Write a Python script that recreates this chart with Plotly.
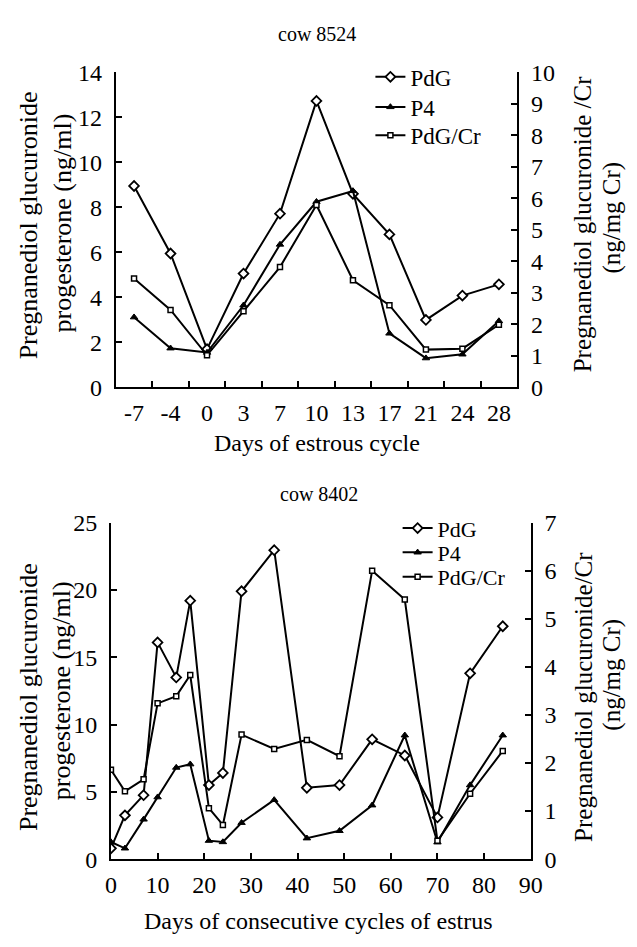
import plotly.graph_objects as go

# ---- data: cow 8524 ----
top_days = ["-7", "-4", "0", "3", "7", "10", "13", "17", "21", "24", "28"]
top_pdg = [8.95, 5.95, 1.70, 5.06, 7.72, 12.73, 8.60, 6.80, 3.00, 4.08, 4.58]
top_p4 = [3.12, 1.74, 1.55, 3.65, 6.35, 8.25, 8.73, 2.40, 1.30, 1.47, 2.95]
top_pdgcr = [3.46, 2.46, 1.02, 2.42, 3.82, 5.79, 3.40, 2.61, 1.20, 1.23, 1.99]

# ---- data: cow 8402 ----
bot_days = [0, 3, 7, 10, 14, 17, 21, 24, 28, 35, 42, 49, 56, 63, 70, 77, 84]
bot_pdg = [0.8, 3.25, 4.75, 16.1, 13.5, 19.2, 5.5, 6.4, 19.9, 22.95, 5.3, 5.5, 8.9, 7.7, 3.1, 13.8, 17.3]
bot_p4 = [1.27, 0.8, 2.95, 4.6, 6.8, 7.05, 1.37, 1.27, 2.7, 4.4, 1.55, 2.1, 4.0, 9.2, 1.25, 5.5, 9.2]
bot_pdgcr = [1.86, 1.41, 1.66, 3.24, 3.39, 3.83, 1.06, 0.71, 2.59, 2.29, 2.48, 2.14, 6.0, 5.40, 0.38, 1.36, 2.25]

W, H = 637, 947
FONT = "Liberation Serif"

def px(x):
    return x / W

def py(y):
    return 1 - y / H

line = dict(color="black", width=2)
m_pdg = dict(symbol="diamond", size=7.5, color="white", line=dict(color="black", width=1.8))
m_p4 = dict(symbol="triangle-up", size=6.5, color="black", line=dict(color="black", width=1))
m_cr = dict(symbol="square", size=5, color="white", line=dict(color="black", width=1.5))

fig = go.Figure()
def add(x, y, name, marker, xa, ya, lg):
    fig.add_trace(go.Scatter(x=x, y=y, name=name, mode="lines+markers", line=line,
                             marker=marker, xaxis=xa, yaxis=ya, legend=lg, showlegend=True))

add(top_days, top_pdg, "PdG", m_pdg, "x", "y", "legend")
add(top_days, top_p4, "P4", m_p4, "x", "y", "legend2")
add(top_days, top_pdgcr, "PdG/Cr", m_cr, "x", "y2", "legend3")
add(bot_days, bot_pdg, "PdG", m_pdg, "x2", "y3", "legend4")
add(bot_days, bot_p4, "P4", m_p4, "x2", "y3", "legend5")
add(bot_days, bot_pdgcr, "PdG/Cr", m_cr, "x2", "y4", "legend6")

tickfont = dict(family=FONT, size=24, color="black")
axcommon = dict(showline=True, linecolor="black", linewidth=2, ticks="inside", ticklen=6,
                tickwidth=2, tickcolor="black", showgrid=False, zeroline=False, tickfont=tickfont)
xcommon = dict(ticklabelstandoff=3, **axcommon)
ycommon = dict(ticklabelstandoff=7, **axcommon)

top_x = [px(113), px(526)]
top_y = [py(385), py(61)]
bot_x = [px(108), px(540)]
bot_y = [py(870), py(524)]

def leg(x, row_center, size):
    item_h = max(1.3 * size, 16) + 3
    top = row_center - (5 + item_h / 2)
    return dict(x=px(x), y=py(top), xanchor="left", yanchor="top", bgcolor="rgba(0,0,0,0)",
                font=dict(family=FONT, size=size, color="black"), itemwidth=30, visible=True)

fig.update_layout(
    width=W, height=H,
    margin=dict(l=0, r=0, t=0, b=0),
    showlegend=True,
    paper_bgcolor="white", plot_bgcolor="white",
    font=dict(family=FONT, color="black"),
    xaxis=dict(domain=top_x, anchor="y", type="category", range=[-0.5, 10.5],
               tickson="boundaries", **xcommon),
    yaxis=dict(domain=top_y, anchor="x", range=[0, 14], dtick=2, **ycommon),
    yaxis2=dict(overlaying="y", side="right", anchor="x", range=[0, 10], dtick=1, **ycommon),
    xaxis2=dict(domain=bot_x, anchor="y3", range=[0, 90], dtick=10, **xcommon),
    yaxis3=dict(domain=bot_y, anchor="x2", range=[0, 25], dtick=5, **ycommon),
    yaxis4=dict(overlaying="y3", side="right", anchor="x2", range=[0, 7], dtick=1, **ycommon),
    legend=leg(375, 65, 23),
    legend2=leg(375, 96, 23),
    legend3=leg(375, 125, 23),
    legend4=leg(403, 529, 22),
    legend5=leg(403, 554, 22),
    legend6=leg(403, 579, 22),
)

ann = []
def add_text(text, x, y, size, angle=0):
    ann.append(dict(text=text, x=px(x), y=py(y), xref="paper", yref="paper", showarrow=False,
                    textangle=angle, xanchor="center", yanchor="middle",
                    font=dict(family=FONT, size=size, color="black")))

add_text("cow 8524", 320, 22, 20)
add_text("cow 8402", 322, 495, 20)
add_text("Days of estrous cycle", 320, 442, 24)
add_text("Days of consecutive cycles of estrus", 322, 934, 24)
add_text("Pregnanediol glucuronide", 23, 218, 26, -90)
add_text("progesterone (ng/ml)", 58, 216, 26, -90)
add_text("Pregnanediol glucuronide /Cr", 593, 217, 25, -90)
add_text("(ng/mg Cr)", 624, 210, 25, -90)
add_text("Pregnanediol glucuronide", 23, 703, 26, -90)
add_text("progesterone (ng/ml)", 58, 697, 26, -90)
add_text("Pregnanediol glucuronide/Cr", 594, 703, 25, -90)
add_text("(ng/mg Cr)", 624, 680, 25, -90)
fig.update_layout(annotations=ann)

post = (
    "document.body.style.margin='0';"
    "document.body.style.overflow='hidden';"
)

fig.write_html("out.html", config={"displayModeBar": False}, post_script=post)
